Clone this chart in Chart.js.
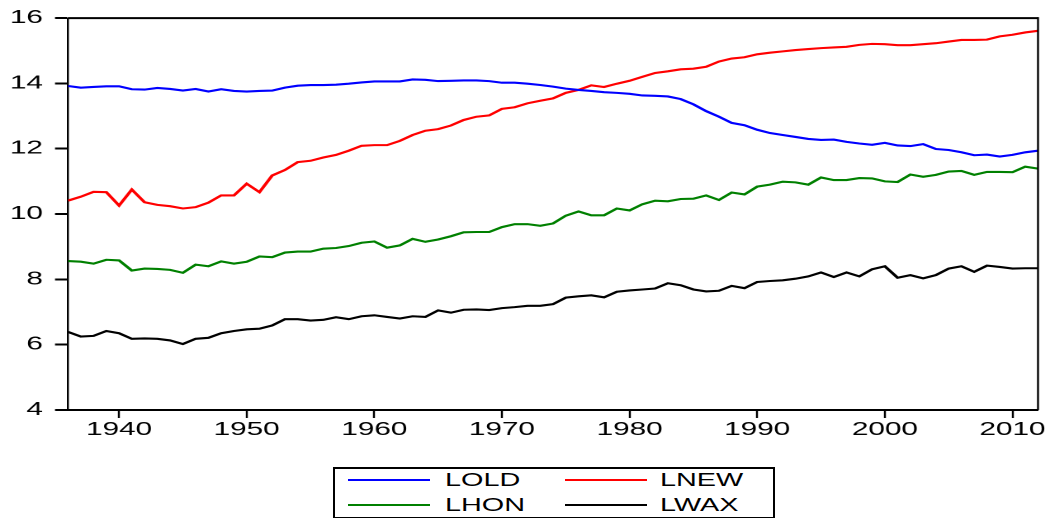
<!DOCTYPE html>
<html>
<head>
<meta charset="utf-8">
<script src="https://cdn.jsdelivr.net/npm/chart.js@4.4.1/dist/chart.umd.min.js"></script>
<style>
  body { margin: 0; background: #fff; width: 1050px; height: 518px; overflow: hidden; position: relative;
         font-family: "Liberation Sans", Arial, sans-serif; }
  /* the source graph is drawn horizontally stretched, so the chart is too */
  #chartBox { position: absolute; left: 0; top: 0; width: 636px; height: 460px;
              transform: scaleX(1.65094); transform-origin: 0 0; }
  .legend-box { position: absolute; left: 333px; top: 467px; width: 442px; height: 52px;
                box-sizing: border-box; border: 2px solid #000; }
  .legend-line { position: absolute; height: 2px; }
  .legend-text { position: absolute; font-size: 18px; line-height: 18px; color: #000;
                 transform: scaleX(1.6); transform-origin: left center; white-space: nowrap; }
</style>
</head>
<body>
<div id="chartBox"><canvas id="lineChart" width="636" height="460"></canvas></div>
<div class="legend-box"></div>
<div id="legend"></div>

<script>
// Data_section
const years = [
  1936, 1937, 1938, 1939, 1940, 1941, 1942, 1943, 1944, 1945,
  1946, 1947, 1948, 1949, 1950, 1951, 1952, 1953, 1954, 1955,
  1956, 1957, 1958, 1959, 1960, 1961, 1962, 1963, 1964, 1965,
  1966, 1967, 1968, 1969, 1970, 1971, 1972, 1973, 1974, 1975,
  1976, 1977, 1978, 1979, 1980, 1981, 1982, 1983, 1984, 1985,
  1986, 1987, 1988, 1989, 1990, 1991, 1992, 1993, 1994, 1995,
  1996, 1997, 1998, 1999, 2000, 2001, 2002, 2003, 2004, 2005,
  2006, 2007, 2008, 2009, 2010, 2011, 2012
];

const lold = [
  13.92, 13.87, 13.89, 13.91, 13.91, 13.82, 13.81, 13.86, 13.83, 13.78,
  13.83, 13.75, 13.82, 13.77, 13.75, 13.77, 13.78, 13.87, 13.93, 13.95,
  13.95, 13.96, 13.99, 14.03, 14.06, 14.06, 14.06, 14.12, 14.11, 14.07,
  14.08, 14.09, 14.09, 14.07, 14.02, 14.02, 13.99, 13.95, 13.90, 13.84,
  13.80, 13.77, 13.73, 13.71, 13.68, 13.63, 13.62, 13.60, 13.52, 13.36,
  13.15, 12.98, 12.79, 12.72, 12.58, 12.48, 12.42, 12.36, 12.30, 12.27,
  12.28, 12.21, 12.16, 12.12, 12.18, 12.10, 12.08, 12.14, 11.99, 11.96,
  11.89, 11.80, 11.82, 11.76, 11.81, 11.89, 11.94
];

const lnew = [
  10.41, 10.53, 10.68, 10.67, 10.26, 10.75, 10.36, 10.28, 10.24, 10.17,
  10.21, 10.35, 10.57, 10.57, 10.93, 10.67, 11.18, 11.35, 11.59, 11.63,
  11.73, 11.81, 11.94, 12.09, 12.11, 12.11, 12.24, 12.42, 12.55, 12.60,
  12.71, 12.88, 12.98, 13.02, 13.22, 13.27, 13.39, 13.47, 13.54, 13.71,
  13.80, 13.94, 13.89, 13.99, 14.08, 14.20, 14.32, 14.37, 14.43, 14.45,
  14.51, 14.67, 14.76, 14.80, 14.89, 14.94, 14.98, 15.02, 15.05, 15.08,
  15.10, 15.12, 15.18, 15.21, 15.20, 15.17, 15.17, 15.20, 15.23, 15.28,
  15.33, 15.33, 15.34, 15.44, 15.49, 15.56, 15.61
];

const lhon = [
  8.56, 8.54, 8.48, 8.60, 8.58, 8.27, 8.33, 8.32, 8.29, 8.20,
  8.45, 8.40, 8.55, 8.48, 8.54, 8.70, 8.68, 8.82, 8.85, 8.85,
  8.94, 8.96, 9.02, 9.12, 9.16, 8.97, 9.04, 9.24, 9.15, 9.22,
  9.32, 9.44, 9.45, 9.45, 9.60, 9.69, 9.69, 9.64, 9.71, 9.95,
  10.08, 9.96, 9.96, 10.17, 10.11, 10.30, 10.41, 10.39, 10.46, 10.47,
  10.57, 10.43, 10.66, 10.60, 10.84, 10.90, 10.99, 10.97, 10.90, 11.12,
  11.04, 11.04, 11.10, 11.09, 11.00, 10.98, 11.21, 11.14, 11.20, 11.30,
  11.32, 11.20, 11.29, 11.29, 11.28, 11.45, 11.39
];

const lwax = [
  6.39, 6.25, 6.27, 6.42, 6.35, 6.18, 6.19, 6.18, 6.13, 6.02,
  6.18, 6.21, 6.35, 6.42, 6.47, 6.49, 6.59, 6.78, 6.78, 6.74,
  6.76, 6.84, 6.78, 6.87, 6.90, 6.85, 6.80, 6.87, 6.85, 7.05,
  6.98, 7.07, 7.08, 7.06, 7.12, 7.15, 7.19, 7.19, 7.24, 7.44,
  7.48, 7.51, 7.45, 7.62, 7.66, 7.69, 7.72, 7.88, 7.82, 7.69,
  7.63, 7.65, 7.80, 7.73, 7.92, 7.95, 7.97, 8.02, 8.09, 8.21,
  8.07, 8.21, 8.09, 8.31, 8.40, 8.05, 8.13, 8.03, 8.13, 8.33,
  8.40, 8.23, 8.42, 8.38, 8.33, 8.34, 8.34
];

const seriesNames  = ['LOLD', 'LNEW', 'LHON', 'LWAX'];
const seriesData   = [lold, lnew, lhon, lwax];
const seriesColors = ['#0000ff', '#ff0000', '#008000', '#000000'];
const xTicks = [1940, 1950, 1960, 1970, 1980, 1990, 2000, 2010];
const yTicks = [4, 6, 8, 10, 12, 14, 16];

// Chart

const FONT = '"Liberation Sans", Arial, sans-serif';
const SX = 1.65094;          // horizontal stretch of #chartBox
const vw = px => px / SX;    // width of a vertical stroke, in canvas units

// top + right side of the frame (axes give the other two)
const framePlugin = {
  id: 'frame',
  afterDraw(c) {
    const { ctx, chartArea: a } = c;
    ctx.save();
    ctx.strokeStyle = '#000';
    ctx.lineWidth = 2;
    ctx.beginPath();
    ctx.moveTo(a.left, a.top);
    ctx.lineTo(a.right, a.top);
    ctx.stroke();
    ctx.lineWidth = vw(2);
    ctx.beginPath();
    ctx.moveTo(a.right, a.top - 1);
    ctx.lineTo(a.right, a.bottom);
    ctx.stroke();
    ctx.restore();
  }
};

const datasets = seriesNames.map((name, i) => ({
  label: name,
  data: years.map((yr, j) => ({ x: yr, y: seriesData[i][j] })),
  borderColor: seriesColors[i],
  borderWidth: 2.1,
  pointRadius: 0,
  tension: 0,
  fill: false
}));

new Chart(document.getElementById('lineChart'), {
  type: 'line',
  data: { datasets },
  options: {
    responsive: false,
    animation: false,
    devicePixelRatio: 2,
    layout: { padding: { top: 17, right: 636 - 1038 / SX, left: 0, bottom: 0 } },
    plugins: { legend: { display: false }, tooltip: { enabled: false } },
    scales: {
      x: {
        type: 'linear', min: 1936, max: 2012,
        afterBuildTicks: s => { s.ticks = xTicks.map(v => ({ value: v })); },
        afterFit: s => { s.height = 50; },
        grid: { drawOnChartArea: false, drawTicks: true, tickLength: 8, tickWidth: vw(2), tickColor: '#000' },
        border: { color: '#000', width: 2 },
        ticks: { color: '#000', font: { family: FONT, size: 18 }, padding: 1, maxRotation: 0,
                 autoSkip: false, callback: v => String(v) }
      },
      y: {
        min: 4, max: 16,
        afterBuildTicks: s => { s.ticks = yTicks.map(v => ({ value: v })); },
        afterFit: s => { s.width = 68 / SX; },
        grid: { drawOnChartArea: false, drawTicks: true, tickLength: 13 / SX, tickWidth: 2, tickColor: '#000' },
        border: { color: '#000', width: vw(2) },
        ticks: { color: '#000', font: { family: FONT, size: 18 }, padding: 7.5 / SX * 1.6, autoSkip: false,
                 callback: v => String(v) }
      }
    }
  },
  plugins: [framePlugin]
});

// Legend (2 x 2, boxed, under the plot)
const legendPos = [
  { line: 348, text: 445, y: 480 },
  { line: 565, text: 660, y: 480 },
  { line: 348, text: 445, y: 505 },
  { line: 565, text: 660, y: 505 }
];
document.getElementById('legend').innerHTML = seriesNames.map((name, i) => {
  const p = legendPos[i];
  return `<div class="legend-line" style="left:${p.line}px;top:${p.y - 1}px;width:82px;background:${seriesColors[i]}"></div>` +
         `<div class="legend-text" style="left:${p.text}px;top:${p.y - 9}px">${name}</div>`;
}).join('');
</script>
</body>
</html>
